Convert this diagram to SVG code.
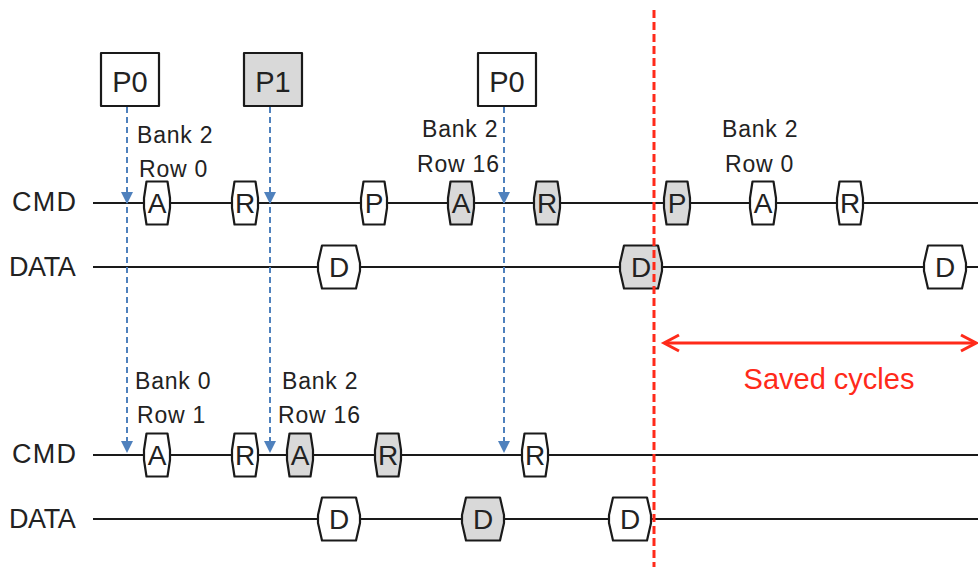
<svg xmlns="http://www.w3.org/2000/svg" width="978" height="567" viewBox="0 0 978 567">
  <style>
    .txt { font-family: "Liberation Sans", Arial, sans-serif; fill: #222; }
    .lane { font-size: 27px; }
    .lbl { font-size: 23px; letter-spacing: 0.8px; }
    .tok { font-size: 28px; text-anchor: middle; }
    .req { font-size: 29px; text-anchor: middle; }
    .track { stroke: #1a1a1a; stroke-width: 2.2; fill: none; }
    .shape { stroke: #1a1a1a; stroke-width: 2.2; stroke-linejoin: round; }
    .w { fill: #ffffff; }
    .g { fill: #d9d9d9; }
    .probe { stroke: #4f81bd; stroke-width: 2; stroke-dasharray: 6 4; fill: none; }
    .tip { fill: #4f81bd; }
    .red { stroke: #ff2a1a; stroke-width: 3; fill: none; }
  </style>
  <defs>
    <path id="cmdTok" d="M -10.5,-21.5 H 10.5 L 13,-5 V 5 L 10.5,21.5 H -10.5 L -13,5 V -5 Z"/>
    <path id="dataTok" d="M -17,-21.5 H 17 L 21,-4 V 4 L 17,21.5 H -17 L -21,4 V -4 Z"/>
    <polygon id="tipDown" points="-6,-12 6,-12 0,0"/>
  </defs>

  <rect width="978" height="567" fill="#ffffff"/>

  <!-- timeline tracks -->
  <g id="tracks">
    <line class="track" x1="93" y1="203" x2="978" y2="203"/>
    <line class="track" x1="93" y1="267" x2="978" y2="267"/>
    <line class="track" x1="93" y1="455" x2="978" y2="455"/>
    <line class="track" x1="93" y1="519" x2="978" y2="519"/>
    <text class="txt lane" x="12" y="211" style="letter-spacing:1.2px">CMD</text>
    <text class="txt lane" x="9" y="276" style="letter-spacing:-0.4px">DATA</text>
    <text class="txt lane" x="12" y="463" style="letter-spacing:1.2px">CMD</text>
    <text class="txt lane" x="9" y="528" style="letter-spacing:-0.4px">DATA</text>
  </g>

  <!-- connectors: request probes and saved-cycles span -->
  <g id="connectors">
    <line class="probe" x1="127" y1="107" x2="127" y2="443"/>
    <line class="probe" x1="270" y1="107" x2="270" y2="443"/>
    <line class="probe" x1="504" y1="107" x2="504" y2="443"/>
    <use href="#tipDown" class="tip" x="127" y="204"/>
    <use href="#tipDown" class="tip" x="270" y="204"/>
    <use href="#tipDown" class="tip" x="504" y="204"/>
    <use href="#tipDown" class="tip" x="127" y="453"/>
    <use href="#tipDown" class="tip" x="270" y="453"/>
    <use href="#tipDown" class="tip" x="504" y="453"/>
    <line class="red" x1="665" y1="343" x2="975" y2="343"/>
    <polyline class="red" points="679,335 664,343 679,351"/>
    <polyline class="red" points="961,335 976,343 961,351"/>
  </g>

  <!-- request boxes -->
  <g id="req-p0-a">
    <rect class="shape w" x="101" y="53" width="58" height="53"/>
    <text class="txt req" x="130" y="92">P0</text>
  </g>
  <g id="req-p1">
    <rect class="shape g" x="244" y="53" width="58" height="53"/>
    <text class="txt req" x="273" y="92">P1</text>
  </g>
  <g id="req-p0-b">
    <rect class="shape w" x="478" y="53" width="58" height="53"/>
    <text class="txt req" x="507" y="92">P0</text>
  </g>

  <!-- address labels -->
  <g id="addr-top-1">
    <text class="txt lbl" x="137" y="143">Bank 2</text>
    <text class="txt lbl" x="139" y="177">Row 0</text>
  </g>
  <g id="addr-top-2">
    <text class="txt lbl" x="422" y="137">Bank 2</text>
    <text class="txt lbl" x="417" y="172">Row 16</text>
  </g>
  <g id="addr-top-3">
    <text class="txt lbl" x="722" y="137">Bank 2</text>
    <text class="txt lbl" x="725" y="172">Row 0</text>
  </g>
  <g id="addr-bot-1">
    <text class="txt lbl" x="135" y="389">Bank 0</text>
    <text class="txt lbl" x="137" y="423">Row 1</text>
  </g>
  <g id="addr-bot-2">
    <text class="txt lbl" x="282" y="389">Bank 2</text>
    <text class="txt lbl" x="278" y="423">Row 16</text>
  </g>

  <!-- top CMD commands -->
  <g id="t-cmd-a1" transform="translate(157,203)"><use href="#cmdTok" class="shape w"/><text class="txt tok" y="10">A</text></g>
  <g id="t-cmd-r1" transform="translate(245,203)"><use href="#cmdTok" class="shape w"/><text class="txt tok" y="10">R</text></g>
  <g id="t-cmd-p1" transform="translate(374,203)"><use href="#cmdTok" class="shape w"/><text class="txt tok" y="10">P</text></g>
  <g id="t-cmd-a2" transform="translate(461,203)"><use href="#cmdTok" class="shape g"/><text class="txt tok" y="10">A</text></g>
  <g id="t-cmd-r2" transform="translate(547,203)"><use href="#cmdTok" class="shape g"/><text class="txt tok" y="10">R</text></g>
  <g id="t-cmd-p2" transform="translate(677,203)"><use href="#cmdTok" class="shape g"/><text class="txt tok" y="10">P</text></g>
  <g id="t-cmd-a3" transform="translate(763,203)"><use href="#cmdTok" class="shape w"/><text class="txt tok" y="10">A</text></g>
  <g id="t-cmd-r3" transform="translate(850,203)"><use href="#cmdTok" class="shape w"/><text class="txt tok" y="10">R</text></g>

  <!-- top DATA bursts -->
  <g id="t-data-d1" transform="translate(339,267)"><use href="#dataTok" class="shape w"/><text class="txt tok" y="10">D</text></g>
  <g id="t-data-d2" transform="translate(641,267)"><use href="#dataTok" class="shape g"/><text class="txt tok" y="10">D</text></g>
  <g id="t-data-d3" transform="translate(945,267)"><use href="#dataTok" class="shape w"/><text class="txt tok" y="10">D</text></g>

  <!-- bottom CMD commands -->
  <g id="b-cmd-a1" transform="translate(157,455)"><use href="#cmdTok" class="shape w"/><text class="txt tok" y="10">A</text></g>
  <g id="b-cmd-r1" transform="translate(245,455)"><use href="#cmdTok" class="shape w"/><text class="txt tok" y="10">R</text></g>
  <g id="b-cmd-a2" transform="translate(300,455)"><use href="#cmdTok" class="shape g"/><text class="txt tok" y="10">A</text></g>
  <g id="b-cmd-r2" transform="translate(388,455)"><use href="#cmdTok" class="shape g"/><text class="txt tok" y="10">R</text></g>
  <g id="b-cmd-r3" transform="translate(535,455)"><use href="#cmdTok" class="shape w"/><text class="txt tok" y="10">R</text></g>

  <!-- bottom DATA bursts -->
  <g id="b-data-d1" transform="translate(339,519)"><use href="#dataTok" class="shape w"/><text class="txt tok" y="10">D</text></g>
  <g id="b-data-d2" transform="translate(483,519)"><use href="#dataTok" class="shape g"/><text class="txt tok" y="10">D</text></g>
  <g id="b-data-d3" transform="translate(630,519)"><use href="#dataTok" class="shape w"/><text class="txt tok" y="10">D</text></g>

  <!-- cut-off marker and saved span label -->
  <g id="cutoff">
    <line class="red" x1="654" y1="10" x2="654" y2="567" stroke-dasharray="8 4"/>
  </g>
  <g id="saved-label">
    <text class="txt" x="829" y="389" style="font-size:29px;fill:#ff2a1a;text-anchor:middle">Saved cycles</text>
  </g>
</svg>
